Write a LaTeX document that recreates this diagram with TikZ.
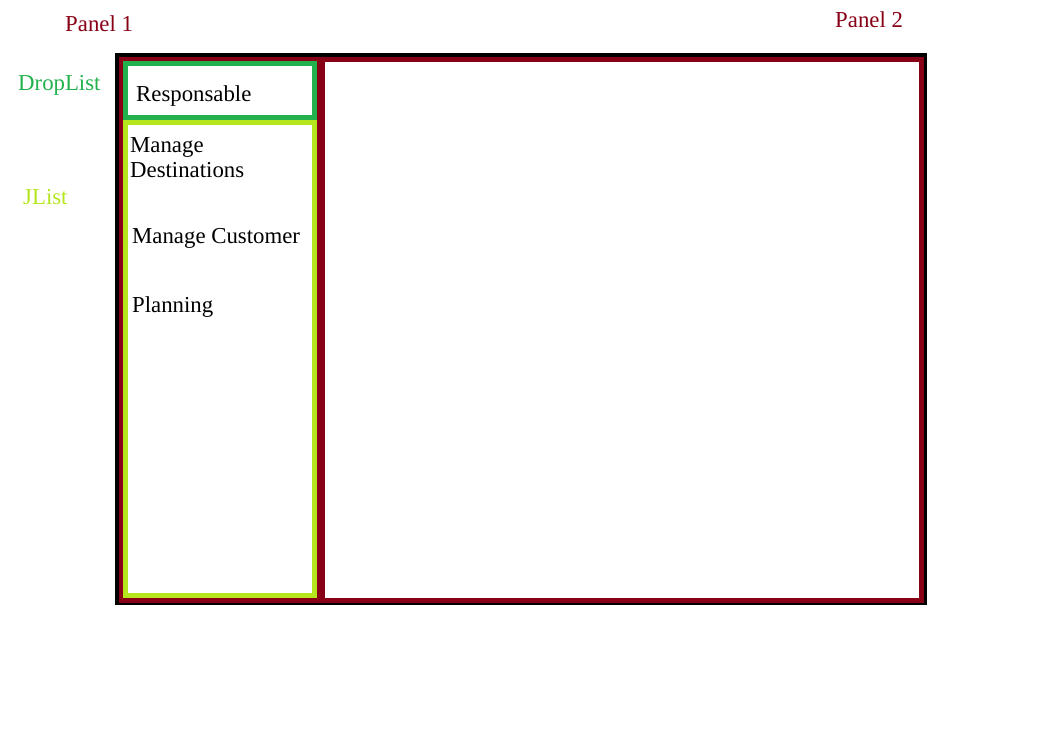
\documentclass[tikz,border=0pt]{standalone}
\usepackage{fontspec}
\setmainfont{Liberation Serif}
\usetikzlibrary{positioning}

\definecolor{paneldark}{HTML}{880015}
\definecolor{dropgreen}{HTML}{22B14C}
\definecolor{listlime}{HTML}{B5E61D}

\tikzset{
    txt/.style={anchor=base west, inner sep=0pt, font=\fontsize{22.8}{25.5}\selectfont},
    frame/.style={line width=5, draw=#1, fill=white}
}

\begin{document}
\begin{tikzpicture}[x=1pt, y=-1pt]
    \useasboundingbox (0,0) rectangle (1058,746);

    % Outer window
    \fill[black] (115,53) rectangle (927,605);
    \fill[paneldark] (119,57) rectangle (924,603);

    % Panel 2
    \draw[frame=paneldark] (322.5,59.5) rectangle (921.5,600.5);

    % DropList box
    \draw[frame=dropgreen] (125.5,63.5) rectangle (314.5,117.5);
    % JList box
    \draw[frame=listlime] (125.5,122.5) rectangle (314.5,595.5);

    % Entries
    \node[txt] (resp) at (136,101.5) {Responsable};
    \node[txt, align=left] (dest) at (130,178) {Manage\\Destinations};
    \node[txt] (cust) at (132,243.5) {Manage Customer};
    \node[txt] (plan) at (132,312.5) {Planning};

    % Labels
    \node[txt, paneldark] (lbl1) at (65,31.5) {Panel 1};
    \node[txt, paneldark] (lbl2) at (835,27.5) {Panel 2};
    \node[txt, dropgreen] (lbldrop) at (18,90.5) {DropList};
    \node[txt, listlime] (lbllist) at (23,204.5) {JList};
\end{tikzpicture}
\end{document}
